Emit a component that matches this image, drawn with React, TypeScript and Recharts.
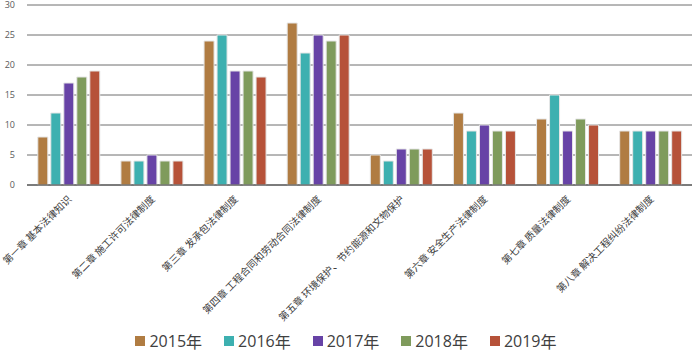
import { BarChart, Bar, XAxis, YAxis, CartesianGrid, Legend } from 'recharts'

const chapters = [
  '第一章 基本法律知识',
  '第二章 施工许可法律制度',
  '第三章 发承包法律制度',
  '第四章 工程合同和劳动合同法律制度',
  '第五章 环境保护、节约能源和文物保护',
  '第六章 安全生产法律制度',
  '第七章 质量法律制度',
  '第八章 解决工程纠纷法律制度',
]

const years = ['2015年', '2016年', '2017年', '2018年', '2019年']
const colors = ['#B07C42', '#3DB0B0', '#6743A6', '#7F9B5C', '#B65239']

const v2015 = [8, 4, 24, 27, 5, 12, 11, 9]
const v2016 = [12, 4, 25, 22, 4, 9, 15, 9]
const v2017 = [17, 5, 19, 25, 6, 10, 9, 9]
const v2018 = [18, 4, 19, 24, 6, 9, 11, 9]
const v2019 = [19, 4, 18, 25, 6, 9, 10, 9]

const yTicks = [0, 5, 10, 15, 20, 25, 30]

const series = [v2015, v2016, v2017, v2018, v2019]

const data = chapters.map((name, i) => {
  const row: Record<string, string | number> = { name }
  years.forEach((y, k) => {
    row[y] = series[k][i]
  })
  return row
})

// rotated category label, anchored at its top-right end
function ChapterTick(props: any) {
  const { x, y, payload } = props
  return (
    <g transform={`translate(${x + 1},${y + 4})`}>
      <text
        transform="rotate(-45)"
        textAnchor="end"
        fontSize={10}
        fill="#404040"
        fontFamily="'Noto Sans CJK SC', sans-serif"
        dy={4}
      >
        {payload.value}
      </text>
    </g>
  )
}

function YearLegend() {
  return (
    <div style={{ display: 'flex', justifyContent: 'center', gap: 22, fontSize: 16, color: '#404040' }}>
      {years.map((y, k) => (
        <div key={y} style={{ display: 'flex', alignItems: 'center' }}>
          <span style={{ display: 'inline-block', width: 10, height: 10, background: colors[k], marginRight: 4 }} />
          <span style={{ fontFamily: "'Open Sans', sans-serif" }}>{y.replace('年', '')}</span>
          <span style={{ fontFamily: "'Noto Sans CJK SC', sans-serif" }}>年</span>
        </div>
      ))}
    </div>
  )
}

export default function App() {
  return (
    <div style={{ position: 'absolute', left: 0, top: 0, width: 694, height: 354, background: '#fff' }}>
      <BarChart
        width={694}
        height={354}
        data={data}
        margin={{ top: 5, right: 2, left: 0, bottom: 2 }}
        barCategoryGap="13%"
        barGap={3}
      >
        <CartesianGrid vertical={false} stroke="#6e6e6e" strokeWidth={1} />
        <YAxis
          domain={[0, 30]}
          ticks={yTicks}
          width={27}
          axisLine={false}
          tickLine={false}
          tick={{ fontSize: 9, fill: '#595959', fontFamily: "'Open Sans', sans-serif" }}
          tickMargin={6}
        />
        <XAxis
          dataKey="name"
          interval={0}
          height={137}
          tickLine={false}
          axisLine={{ stroke: '#404040', strokeWidth: 1 }}
          tick={<ChapterTick />}
        />
        <Legend verticalAlign="bottom" height={30} content={<YearLegend />} wrapperStyle={{ bottom: -5 }} />
        {years.map((y, k) => (
          <Bar
            key={y}
            dataKey={y}
            fill={colors[k]}
            stroke="#e6e6e6"
            strokeWidth={1}
            isAnimationActive={false}
          />
        ))}
      </BarChart>
    </div>
  )
}
